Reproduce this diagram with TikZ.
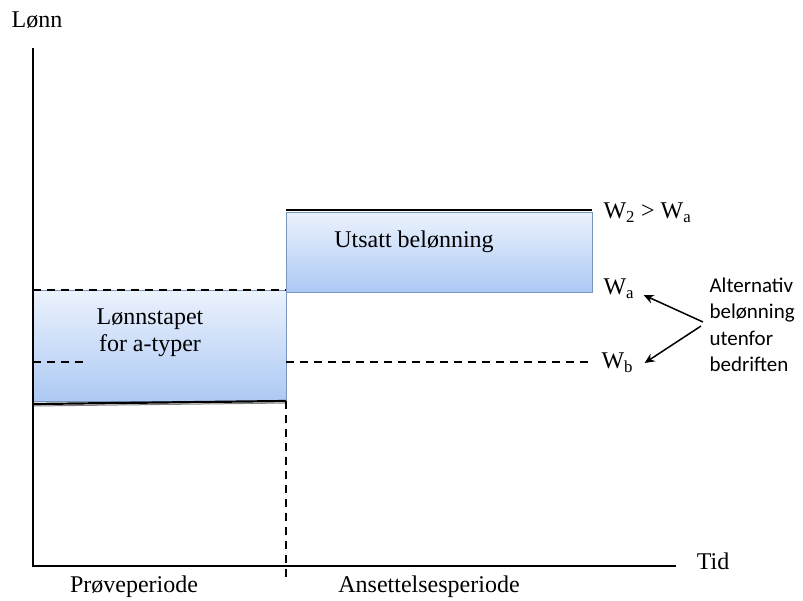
\documentclass[tikz,border=0pt]{standalone}
\usepackage{fontspec}
\setmainfont{Liberation Serif}
\newfontfamily\altfont{Carlito}
\usetikzlibrary{positioning,arrows.meta}

\definecolor{boxtop}{RGB}{236,242,253}
\definecolor{boxbot}{RGB}{172,201,244}
\definecolor{boxedge}{RGB}{120,150,190}

\tikzset{
  axis/.style={line width=1.6pt},
  wagefill/.style={top color=boxtop, bottom color=boxbot, draw=boxedge, line width=0.6pt},
  dashline/.style={line width=1.7pt, dash pattern=on 8pt off 6pt},
  solidline/.style={line width=2.2pt},
  lbl/.style={font=\fontsize{24}{27}\selectfont},
  altlbl/.style={font=\altfont\fontsize{21}{26.5}\selectfont, align=left},
  altarrow/.style={line width=1.5pt, -{Stealth[length=10pt,width=9pt]}}
}

\begin{document}
\begin{tikzpicture}[x=1pt,y=-1pt]
    \useasboundingbox (0,0) rectangle (803,600);
    % boxes
    \path[wagefill] (33,290) rectangle (286,401);
    \path[wagefill] (286,212) rectangle (592,292);
    \draw[boxedge,line width=0.8pt,dash pattern=on 6pt off 3pt] (286,212) -- (286,401);
    % wage lines
    \draw[solidline] (286,210) -- (592,210);
    \draw[dashline] (33,290) -- (286,290);
    \draw[dashline] (33,362) -- (88,362);
    \draw[dashline] (286,362) -- (592,362);
    \draw[gray,line width=1pt] (33,406) -- (286,403);
    \draw[solidline] (33,404) -- (286,401);
    \draw[dashline] (286,401) -- (286,577);
    % axes
    \draw[axis] (33,48) -- (33,566) -- (676,566);
    \node[lbl] (lonn) at (37,20) {Lønn};
    \node[lbl] (tid) at (713,561) {Tid};
    \node[lbl] (prove) at (134,587) {Prøveperiode};
    \node[lbl] (ansett) at (429,587) {Ansettelsesperiode};
    % box texts
    \node[lbl, align=center] (tap) at (150,333) {Lønnstapet\\for a-typer};
    \node[lbl] (utsatt) at (414,242) {Utsatt belønning};
    % levels
    \node[lbl, anchor=west] (wtwo) at (600,213) {W\textsubscript{2} > W\textsubscript{a}};
    \node[lbl, anchor=west] (wa) at (600,289) {W\textsubscript{a}};
    \node[lbl, anchor=west] (wb) at (598,363) {W\textsubscript{b}};
    \node[altlbl, anchor=west] (alt) at (706,325) {Alternativ\\belønning\\utenfor\\bedriften};
    \draw[altarrow] ([xshift=-3pt,yshift=3pt]alt.west) -- ([xshift=6pt,yshift=-6pt]wa.east);
    \draw[altarrow] ([xshift=-5pt,yshift=-1pt]alt.west) -- ([xshift=8pt]wb.east);
\end{tikzpicture}
\end{document}
